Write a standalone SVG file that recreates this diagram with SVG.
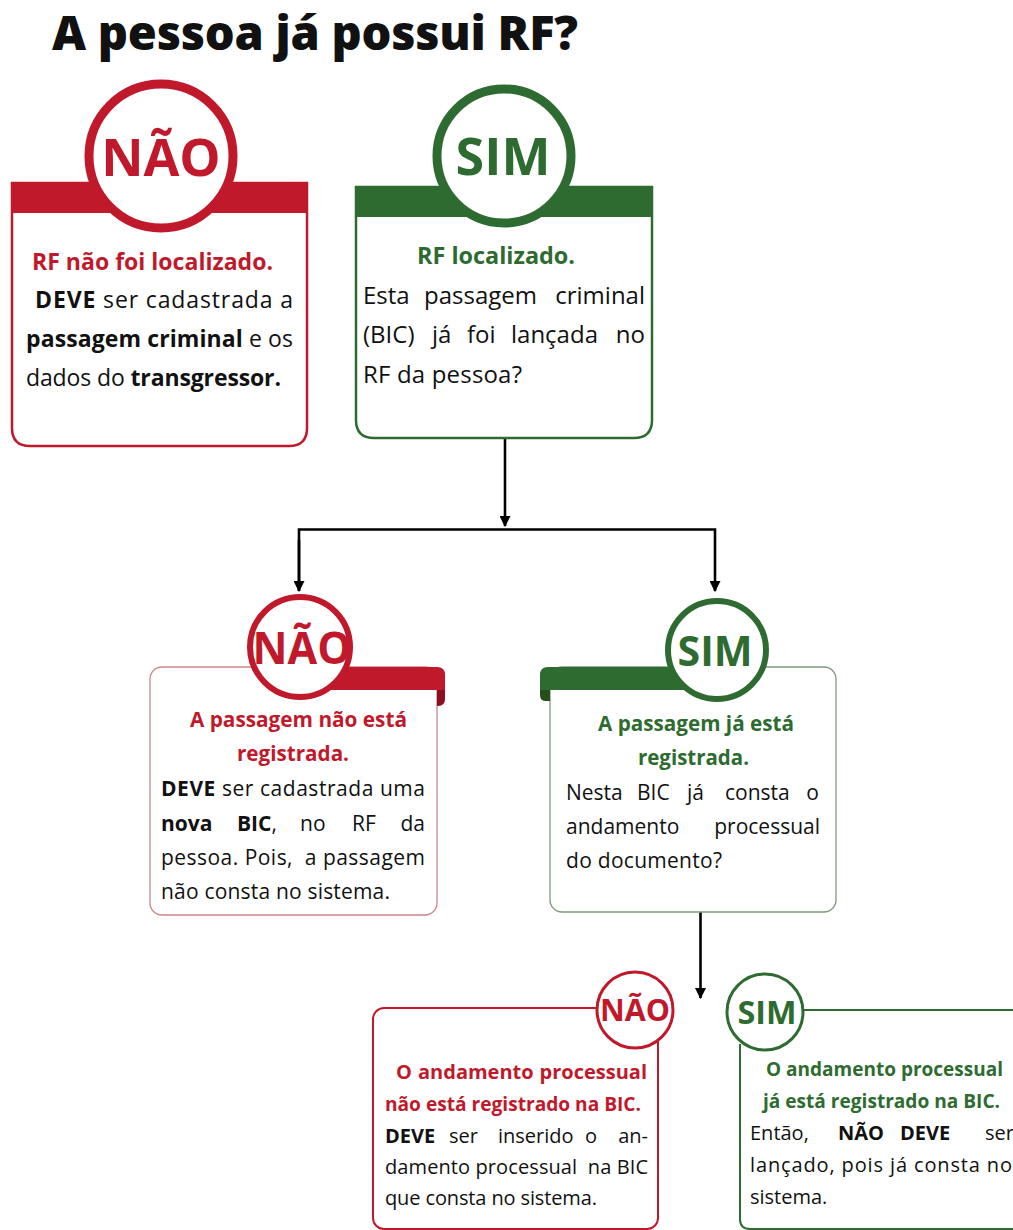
<svg xmlns="http://www.w3.org/2000/svg" width="1013" height="1230" viewBox="0 0 1013 1230">
<style>
text{font-family:"Open Sans","Noto Sans","DejaVu Sans",sans-serif;fill:#111;}
.b{font-weight:700;}
.r{fill:#C1192C;}
.g{fill:#2E6B31;}
.t1{font-size:23px;}
.t1b{font-size:24px;}
.t2{font-size:21px;}
.t3{font-size:20px;}
.big{font-weight:700;text-anchor:middle;}
.conn{fill:none;stroke:#000;stroke-width:2.6;}
</style>
<defs>
<marker id="ah" viewBox="0 0 10 10" refX="9" refY="5" markerWidth="11" markerHeight="11" markerUnits="userSpaceOnUse" orient="auto">
<path d="M0,0 L10,5 L0,10 z" fill="#000"/>
</marker>
</defs>
<rect width="1013" height="1230" fill="#fff"/>

<text id="title" x="52" y="50" font-size="47" font-weight="800" textLength="526" lengthAdjust="spacing">A pessoa já possui RF?</text>

<g id="connectors">
<path class="conn" d="M505,438 V526" marker-end="url(#ah)"/>
<path class="conn" d="M299,591 V529.5 H715 V591" marker-end="url(#ah)"/>
<path class="conn" d="M299,540 V591" marker-end="url(#ah)"/>
<path class="conn" d="M700.5,912 V998" marker-end="url(#ah)"/>
</g>

<g id="node-nao-1">
<path d="M12,183 H307 V428 Q307,446 289,446 H30 Q12,446 12,428 Z" fill="#fff" stroke="#C1192C" stroke-width="2.5"/>
<rect x="12" y="183" width="295" height="30" fill="#C1192C"/>
<circle cx="161" cy="156" r="72" fill="#fff" stroke="#C1192C" stroke-width="9"/>
<text class="big r" x="161" y="176" font-size="52">NÃO</text>
<text class="t1 b r" x="32" y="270" textLength="241" lengthAdjust="spacingAndGlyphs">RF não foi localizado.</text>
<text class="t1" x="35" y="308" textLength="258" lengthAdjust="spacing"><tspan class="b">DEVE</tspan> ser cadastrada a</text>
<text class="t1" x="26" y="347" textLength="267" lengthAdjust="spacing"><tspan class="b">passagem criminal</tspan> e os</text>
<text class="t1" x="26" y="386" textLength="255" lengthAdjust="spacing">dados do <tspan class="b">transgressor.</tspan></text>
</g>

<g id="node-sim-1">
<path d="M356,187 H652 V420 Q652,438 634,438 H374 Q356,438 356,420 Z" fill="#fff" stroke="#2E6B31" stroke-width="2.5"/>
<rect x="356" y="187" width="296" height="30" fill="#2E6B31"/>
<circle cx="504" cy="156" r="67" fill="#fff" stroke="#2E6B31" stroke-width="9"/>
<text class="big g" x="503" y="175" font-size="52">SIM</text>
<text class="t1b b g" x="417" y="264" textLength="158" lengthAdjust="spacingAndGlyphs">RF localizado.</text>
<text class="t1b" y="304"><tspan x="363">Esta</tspan><tspan x="424">passagem</tspan><tspan x="645" text-anchor="end">criminal</tspan></text>
<text class="t1b" y="343"><tspan x="363">(BIC)</tspan><tspan x="432">já</tspan><tspan x="467">foi</tspan><tspan x="511">lançada</tspan><tspan x="645" text-anchor="end">no</tspan></text>
<text class="t1b" x="363" y="383" textLength="159" lengthAdjust="spacing">RF da pessoa?</text>
</g>

<g id="node-nao-2">
<rect x="150" y="667" width="287" height="248" rx="12" fill="#fff" stroke="#C9868D" stroke-width="1.3"/>
<path d="M300,667 H437 Q445,667 445,675 V690 H300 Z" fill="#C1192C"/>
<path d="M437,690 H445 V699 Q445,706 438,706 H437 Z" fill="#8E0F1D"/>
<circle cx="300" cy="647" r="50" fill="#fff" stroke="#C1192C" stroke-width="6"/>
<text class="big r" x="302" y="664" font-size="44" textLength="99" lengthAdjust="spacingAndGlyphs">NÃO</text>
<text class="t2 b r" x="190" y="727" textLength="217" lengthAdjust="spacingAndGlyphs">A passagem não está</text>
<text class="t2 b r" x="237" y="761" textLength="112" lengthAdjust="spacingAndGlyphs">registrada.</text>
<text class="t2" x="161" y="796" textLength="264" lengthAdjust="spacing"><tspan class="b">DEVE</tspan> ser cadastrada uma</text>
<text class="t2" y="831"><tspan class="b" x="161">nova</tspan><tspan class="b" x="237">BIC</tspan>,<tspan x="300">no</tspan><tspan x="352">RF</tspan><tspan x="425" text-anchor="end">da</tspan></text>
<text class="t2" x="161" y="865" textLength="264" lengthAdjust="spacing">pessoa. Pois,&#160; a passagem</text>
<text class="t2" x="161" y="899" textLength="229" lengthAdjust="spacing">não consta no sistema.</text>
</g>

<g id="node-sim-2">
<rect x="550" y="667" width="286" height="245" rx="12" fill="#fff" stroke="#7E9A7F" stroke-width="1.3"/>
<path d="M717,667 H548 Q540,667 540,675 V690 H717 Z" fill="#2E6B31"/>
<path d="M550,690 H540 V695 Q540,701 546,701 H550 Z" fill="#254F19"/>
<circle cx="717" cy="650" r="49" fill="#fff" stroke="#2E6B31" stroke-width="6"/>
<text class="big g" x="715" y="666" font-size="42" textLength="75" lengthAdjust="spacingAndGlyphs">SIM</text>
<text class="t2 b g" x="598" y="731" textLength="196" lengthAdjust="spacingAndGlyphs">A passagem já está</text>
<text class="t2 b g" x="638" y="765" textLength="111" lengthAdjust="spacingAndGlyphs">registrada.</text>
<text class="t2" y="800"><tspan x="566">Nesta</tspan><tspan x="637">BIC</tspan><tspan x="687">já</tspan><tspan x="725">consta</tspan><tspan x="819" text-anchor="end">o</tspan></text>
<text class="t2" y="834"><tspan x="566">andamento</tspan><tspan x="820" text-anchor="end">processual</tspan></text>
<text class="t2" x="566" y="868" textLength="156" lengthAdjust="spacing">do documento?</text>
</g>

<g id="node-nao-3">
<rect x="373" y="1008" width="285" height="221" rx="11" fill="#fff" stroke="#C1192C" stroke-width="2"/>
<circle cx="635" cy="1010" r="38" fill="#fff" stroke="#C1192C" stroke-width="3"/>
<text class="big r" x="635" y="1021" font-size="31" textLength="70" lengthAdjust="spacingAndGlyphs">NÃO</text>
<text class="t3 b r" y="1079"><tspan x="396">O</tspan><tspan x="418">andamento</tspan><tspan x="647" text-anchor="end">processual</tspan></text>
<text class="t3 b r" x="385" y="1111" textLength="256" lengthAdjust="spacingAndGlyphs">não está registrado na BIC.</text>
<text class="t3" y="1143"><tspan class="b" x="385">DEVE</tspan><tspan x="449">ser</tspan><tspan x="498">inserido</tspan><tspan x="585">o</tspan><tspan x="648" text-anchor="end">an-</tspan></text>
<text class="t3" x="385" y="1174" textLength="263" lengthAdjust="spacing">damento processual&#160; na BIC</text>
<text class="t3" x="385" y="1205" textLength="212" lengthAdjust="spacing">que consta no sistema.</text>
</g>

<g id="node-sim-3">
<path d="M803,1010 H1013 M740,1044 V1219 Q740,1229 750,1229 H1013" fill="none" stroke="#2E6B31" stroke-width="2"/>
<circle cx="765" cy="1012" r="38" fill="#fff" stroke="#2E6B31" stroke-width="3"/>
<text class="big g" x="767" y="1024" font-size="32" textLength="59" lengthAdjust="spacingAndGlyphs">SIM</text>
<text class="t3 b g" x="766" y="1076" textLength="237" lengthAdjust="spacingAndGlyphs">O andamento processual</text>
<text class="t3 b g" x="763" y="1108" textLength="237" lengthAdjust="spacingAndGlyphs">já está registrado na BIC.</text>
<text class="t3" y="1140"><tspan x="750">Então,</tspan><tspan class="b" x="838">NÃO</tspan><tspan class="b" x="900">DEVE</tspan><tspan x="985">ser</tspan></text>
<text class="t3" x="750" y="1172" textLength="262" lengthAdjust="spacing">lançado, pois já consta no</text>
<text class="t3" x="750" y="1204">sistema.</text>
</g>
</svg>
